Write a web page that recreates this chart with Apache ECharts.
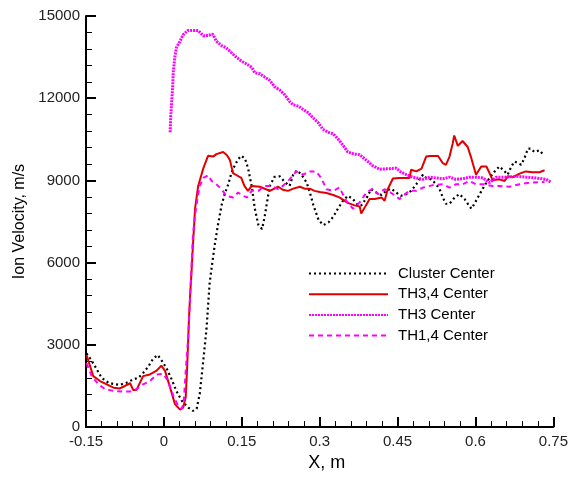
<!DOCTYPE html>
<html>
<head>
<meta charset="utf-8">
<script src="https://cdn.jsdelivr.net/npm/echarts@6/dist/echarts.min.js"></script>
<style>
  html, body { margin: 0; padding: 0; background: #fff; }
  #chart { width: 571px; height: 477px; }
</style>
</head>
<body>
<div id="chart"></div>
<script>
// Axis tick values
const xTicks = [-0.15, 0, 0.15, 0.3, 0.45, 0.6, 0.75];
const yTicks = [0, 3000, 6000, 9000, 12000, 15000];

// Cluster Center
const clusterX = [-0.149,-0.139,-0.129,-0.120,-0.107,-0.094,-0.085,-0.072,-0.059,-0.049,-0.040,-0.030,-0.021,-0.012,-0.005,0.005,0.015,0.024,0.034,0.047,0.056,0.063,0.069,0.075,0.082,0.085,0.088,0.092,0.098,0.104,0.111,0.117,0.124,0.130,0.137,0.143,0.149,0.156,0.162,0.169,0.175,0.182,0.189,0.194,0.199,0.204,0.213,0.223,0.233,0.242,0.249,0.256,0.265,0.275,0.281,0.288,0.298,0.307,0.317,0.326,0.335,0.345,0.354,0.364,0.374,0.380,0.390,0.399,0.409,0.419,0.428,0.438,0.447,0.457,0.467,0.476,0.486,0.492,0.499,0.505,0.515,0.524,0.531,0.537,0.543,0.550,0.560,0.569,0.579,0.585,0.592,0.598,0.608,0.617,0.627,0.637,0.646,0.653,0.662,0.669,0.675,0.682,0.688,0.694,0.701,0.707,0.713,0.723,0.731];
const clusterV = [2690,2420,2100,1800,1620,1560,1540,1620,1740,1800,1975,2210,2490,2630,2450,2150,1740,1320,970,710,590,670,1210,2270,3580,4410,5240,5830,6660,7370,8090,8500,8860,9270,9570,9770,9900,9800,9450,8800,7970,7370,7230,7670,8260,8800,9130,9150,8940,8800,9210,9370,9210,8920,8560,8090,7550,7370,7470,7670,7970,8260,8440,8320,8090,8090,8350,8680,8560,8470,8620,8700,8560,8440,8500,8620,8860,9040,9210,9090,9040,8860,8680,8380,8150,8150,8380,8500,8320,8150,7970,8150,8500,8800,9090,9330,9510,9390,9210,9510,9690,9630,9570,9800,10160,10160,10040,10100,9930];

// TH3,4 Center
const th34X = [-0.149,-0.136,-0.123,-0.110,-0.097,-0.085,-0.075,-0.065,-0.059,-0.053,-0.040,-0.027,-0.014,-0.005,0.002,0.012,0.021,0.031,0.037,0.042,0.045,0.048,0.050,0.053,0.056,0.060,0.066,0.076,0.085,0.095,0.101,0.114,0.121,0.127,0.133,0.141,0.149,0.155,0.162,0.169,0.185,0.204,0.220,0.229,0.239,0.249,0.262,0.271,0.281,0.290,0.300,0.313,0.326,0.338,0.354,0.367,0.377,0.380,0.389,0.396,0.406,0.419,0.425,0.431,0.441,0.454,0.473,0.476,0.486,0.496,0.505,0.512,0.528,0.537,0.543,0.550,0.556,0.559,0.566,0.575,0.585,0.591,0.601,0.611,0.621,0.627,0.633,0.646,0.656,0.662,0.672,0.685,0.697,0.710,0.723,0.733];
const th34V = [2630,1860,1680,1560,1440,1410,1500,1600,1350,1350,1860,1920,2060,2240,2060,1440,850,640,710,1090,2270,3820,4640,5600,6660,7970,8800,9450,9900,9870,9960,10040,9930,9750,9270,9180,9090,8800,8620,8800,8770,8620,8770,8660,8620,8700,8770,8700,8700,8620,8580,8540,8470,8380,8180,8090,8050,7790,8090,8320,8320,8380,8260,8680,9070,9090,9090,9390,9330,9430,9870,9890,9890,9630,9570,9870,10340,10640,10260,10440,10220,9870,9210,9510,9510,9270,9010,9040,8980,9150,9120,9250,9330,9300,9300,9370];

// TH3 Center
const th3X = [0.012,0.013,0.015,0.017,0.018,0.021,0.024,0.031,0.037,0.046,0.056,0.066,0.076,0.085,0.094,0.101,0.111,0.120,0.130,0.140,0.149,0.159,0.169,0.175,0.185,0.194,0.204,0.213,0.223,0.233,0.242,0.249,0.259,0.268,0.278,0.287,0.297,0.306,0.316,0.326,0.335,0.345,0.354,0.367,0.377,0.389,0.402,0.415,0.435,0.447,0.457,0.467,0.479,0.499,0.512,0.525,0.537,0.550,0.562,0.575,0.588,0.601,0.614,0.627,0.640,0.659,0.678,0.697,0.716,0.736,0.745];
const th3V = [10760,11290,11880,12480,12950,13490,13840,14080,14310,14470,14470,14470,14280,14290,14340,14080,13920,13840,13660,13490,13360,13250,13130,12930,12890,12770,12650,12420,12300,12120,11880,11760,11710,11590,11470,11290,11110,10870,10760,10700,10520,10280,10040,9960,9940,9750,9540,9410,9430,9450,9300,9210,9120,9040,9120,9090,9060,9120,9040,9060,9120,9120,9090,8920,9120,9120,9150,9120,9090,9040,8940];

// TH1,4 Center
const th14X = [-0.149,-0.139,-0.126,-0.113,-0.097,-0.081,-0.065,-0.053,-0.040,-0.027,-0.014,-0.001,0.008,0.018,0.027,0.034,0.038,0.042,0.047,0.050,0.053,0.056,0.060,0.065,0.069,0.076,0.085,0.092,0.101,0.111,0.120,0.133,0.143,0.152,0.160,0.169,0.182,0.194,0.207,0.220,0.229,0.242,0.255,0.268,0.281,0.293,0.303,0.313,0.326,0.338,0.351,0.364,0.377,0.390,0.402,0.412,0.425,0.438,0.454,0.460,0.473,0.486,0.499,0.518,0.537,0.550,0.562,0.575,0.588,0.601,0.614,0.633,0.646,0.665,0.685,0.704,0.723,0.733];
const th14V = [2330,1860,1560,1380,1320,1300,1300,1380,1560,1680,1920,1940,1680,1150,790,670,850,2040,3340,4530,5830,7020,7730,8380,8800,9090,9190,8980,8860,8680,8440,8380,8560,8440,8380,8620,8620,8800,8800,8680,8800,9040,9330,9210,9330,9330,9090,8680,8620,8740,8260,7970,8200,8560,8700,8500,8680,8540,8320,8440,8620,8620,8740,8830,8860,8740,8860,8860,8980,8860,8860,8800,8800,8770,8860,8920,8940,8940];

const seriesNames = ['Cluster Center', 'TH3,4 Center', 'TH3 Center', 'TH1,4 Center'];

function pairs(xs, vs) {
  return xs.map((x, i) => [x, vs[i]]);
}

const labelFont = 'Liberation Sans, Arial, Helvetica, sans-serif';

const chart = echarts.init(document.getElementById('chart'), null, { renderer: 'canvas' });

chart.setOption({
  animation: false,
  backgroundColor: '#ffffff',
  grid: { left: 86, right: 17, top: 16, bottom: 40, containLabel: false },
  legend: {
    orient: 'vertical',
    left: 303,
    top: 261,
    itemWidth: 79,
    itemHeight: 14,
    itemGap: 5.7,
    data: seriesNames,
    itemStyle: { opacity: 0, borderWidth: 0 },
    textStyle: { fontFamily: labelFont, fontSize: 15, color: '#000', padding: [0, 0, 0, 5] }
  },
  xAxis: {
    type: 'value',
    min: xTicks[0],
    max: xTicks[xTicks.length - 1],
    interval: 0.15,
    name: 'X, m',
    nameLocation: 'middle',
    nameGap: 21,
    nameTextStyle: { fontFamily: labelFont, fontSize: 18, color: '#000', padding: [0, 0, 0, 14] },
    axisLine: { onZero: false, lineStyle: { color: '#000', width: 2 } },
    axisTick: { inside: true, length: 10, lineStyle: { color: '#000', width: 2 } },
    minorTick: { show: true, splitNumber: 5, length: 6, lineStyle: { color: '#000', width: 1 } },
    splitLine: { show: false },
    axisLabel: {
      fontFamily: labelFont, fontSize: 15, color: '#222', margin: 7,
      formatter: v => String(+v.toFixed(2))
    }
  },
  yAxis: {
    type: 'value',
    min: yTicks[0],
    max: yTicks[yTicks.length - 1],
    interval: 3000,
    name: 'Ion Velocity, m/s',
    nameLocation: 'middle',
    nameGap: 46,
    nameTextStyle: { fontFamily: labelFont, fontSize: 16, color: '#000' },
    axisLine: { onZero: false, lineStyle: { color: '#000', width: 2 } },
    axisTick: { inside: true, length: 10, lineStyle: { color: '#000', width: 2 } },
    minorTick: { show: true, splitNumber: 5, length: 6, lineStyle: { color: '#000', width: 1 } },
    splitLine: { show: false },
    axisLabel: {
      fontFamily: labelFont, fontSize: 15, color: '#222', margin: 6,
      formatter: v => String(Math.round(v))
    }
  },
  series: [
    {
      name: seriesNames[0], type: 'line', showSymbol: false, symbol: 'none',
      data: pairs(clusterX, clusterV),
      lineStyle: { color: '#000', width: 2.2, type: [2, 3] },
      itemStyle: { color: '#000' }
    },
    {
      name: seriesNames[1], type: 'line', showSymbol: false, symbol: 'none',
      data: pairs(th34X, th34V),
      lineStyle: { color: '#e00000', width: 2 },
      itemStyle: { color: '#e00000' }
    },
    {
      name: seriesNames[2], type: 'line', showSymbol: false, symbol: 'none',
      data: pairs(th3X, th3V),
      lineStyle: { color: '#ff00ff', width: 3, type: [2, 1] },
      itemStyle: { color: '#ff00ff' }
    },
    {
      name: seriesNames[3], type: 'line', showSymbol: false, symbol: 'none',
      data: pairs(th14X, th14V),
      lineStyle: { color: '#ff00ff', width: 2, type: [5, 4] },
      itemStyle: { color: '#ff00ff' }
    }
  ]
});
</script>
</body>
</html>
